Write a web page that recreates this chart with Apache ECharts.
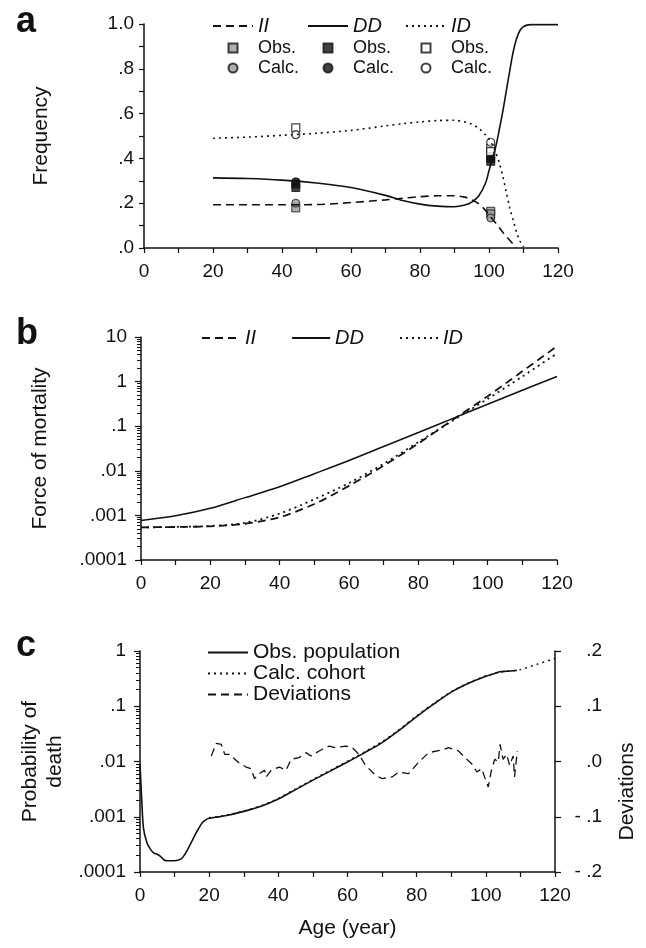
<!DOCTYPE html>
<html>
<head>
<meta charset="utf-8">
<script src="https://cdn.jsdelivr.net/npm/echarts@6/dist/echarts.min.js"></script>
<style>
  html, body { margin: 0; padding: 0; background: #fff; }
  #main { width: 646px; height: 948px; }
</style>
</head>
<body>
<div id="main"></div>
<script>
// panel a: genotype frequencies by age
var ageA = [20, 30, 40, 50, 60, 70, 75, 80, 85, 90, 93, 95, 97, 99, 100, 101, 102, 103, 104, 105, 106, 107, 108, 109, 110, 111, 112, 115, 120];
var freqII = [0.193, 0.193, 0.193, 0.194, 0.203, 0.215, 0.222, 0.229, 0.233, 0.233, 0.227, 0.215, 0.198, 0.168, 0.148, 0.130, 0.110, 0.090, 0.070, 0.052, 0.035, 0.017, 0.0, null, null, null, null, null, null];
var freqDD = [0.313, 0.310, 0.303, 0.290, 0.270, 0.235, 0.212, 0.196, 0.187, 0.184, 0.192, 0.205, 0.232, 0.290, 0.345, 0.400, 0.455, 0.530, 0.610, 0.700, 0.790, 0.875, 0.935, 0.972, 0.988, 0.995, 0.997, 0.997, 0.997];
var freqID = [0.490, 0.495, 0.503, 0.512, 0.525, 0.545, 0.555, 0.563, 0.569, 0.570, 0.563, 0.553, 0.535, 0.505, 0.485, 0.460, 0.425, 0.380, 0.320, 0.250, 0.180, 0.125, 0.070, 0.030, 0.004, null, null, null, null];

var obsAge = [44, 44, 100.5, 100.5];
var obsII = [0.179, null, 0.164, 0.152];
var calcII = [0.200, null, 0.134, null];
var obsDD = [0.286, 0.270, 0.400, 0.387];
var calcDD = [0.296, null, 0.402, null];
var obsID = [0.536, null, 0.444, 0.430];
var calcID = [0.506, null, 0.472, null];

// panel b: force of mortality
var ageB = [0, 10, 20, 30, 40, 50, 60, 70, 80, 90, 100, 110, 120];
var muII = [0.00054, 0.00055, 0.00057, 0.00065, 0.00091, 0.0018, 0.0046, 0.013, 0.041, 0.14, 0.47, 1.7, 6.2];
var muDD = [0.00077, 0.00098, 0.00144, 0.0025, 0.0044, 0.0086, 0.017, 0.035, 0.072, 0.15, 0.31, 0.64, 1.3];
var muID = [0.00054, 0.00055, 0.00058, 0.00068, 0.0011, 0.0023, 0.0053, 0.0144, 0.044, 0.135, 0.41, 1.3, 4.3];

// panel c: probability of death and deviations
var ageObs = [0, 0.5, 1, 2, 3, 4, 5, 6, 7, 8, 10, 12, 13, 14, 15, 16, 17, 18, 19, 20, 22, 25, 30, 35, 40, 45, 50, 55, 60, 65, 70, 75, 80, 85, 90, 95, 100, 102, 104, 106, 108, 109];
var qObs = [0.009, 0.002, 0.00062, 0.00034, 0.00026, 0.00022, 0.00021, 0.00019, 0.000165, 0.00016, 0.00016, 0.000175, 0.00021, 0.00027, 0.00036, 0.00048, 0.00062, 0.00078, 0.00088, 0.00094, 0.00098, 0.00105, 0.00125, 0.00155, 0.0021, 0.0031, 0.0046, 0.0067, 0.0098, 0.0145, 0.022, 0.037, 0.065, 0.11, 0.18, 0.26, 0.35, 0.38, 0.42, 0.43, 0.44, 0.445];
var ageCalc = [20, 22, 25, 30, 35, 40, 45, 50, 55, 60, 65, 70, 75, 80, 85, 90, 95, 100, 102, 104, 106, 108, 110, 115, 120];
var qCalc = [0.00096, 0.001, 0.00107, 0.00127, 0.00158, 0.00215, 0.0032, 0.0047, 0.0069, 0.0101, 0.015, 0.0228, 0.038, 0.067, 0.113, 0.183, 0.265, 0.355, 0.385, 0.415, 0.43, 0.44, 0.46, 0.58, 0.73];
var ageDev = [20.6, 22.1, 23.5, 24.5, 25.9, 28.3, 30.7, 32.1, 33.1, 34.5, 36, 36.5, 37.9, 40.3, 42.2, 43.7, 46, 48, 49.4, 51.8, 54.7, 56.6, 59.5, 61.4, 63.3, 65.2, 68.1, 70, 72.9, 74.8, 77.7, 80.6, 83.5, 87.3, 89.2, 92.1, 94, 95.9, 97.4, 98.8, 99.8, 100.7, 101.7, 102.6, 103.6, 104.1, 105, 106, 106.9, 107.9, 108.3, 109.1];
var dev = [0.010, 0.033, 0.031, 0.013, 0.013, -0.001, -0.010, -0.013, -0.031, -0.022, -0.016, -0.028, -0.016, -0.010, -0.016, 0.004, 0.007, 0.016, 0.010, 0.019, 0.028, 0.025, 0.028, 0.025, 0.013, -0.007, -0.025, -0.031, -0.028, -0.019, -0.022, -0.001, 0.016, 0.021, 0.025, 0.019, 0.007, -0.004, -0.019, -0.013, -0.031, -0.046, -0.013, 0.004, -0.001, 0.031, 0.004, 0.013, -0.007, 0.010, -0.028, 0.019];

var FONT = 'Liberation Sans';
var INK = '#111';
var DASH = [8, 5];
var DOT = [2, 4];
var SQUARE = 'path://M0 0H10V10H0Z';
var TICK_FS = 19;

function pairs(xs, ys) {
  return xs.map(function (x, i) { return [x, ys[i]]; });
}

function pts(xs, ys) {
  var out = [];
  xs.forEach(function (x, i) { if (ys[i] != null) out.push([x, ys[i]]); });
  return out;
}

// log minor ticks (2..9 in each decade)
var minorLog = [];
[0.0001, 0.001, 0.01, 0.1, 1].forEach(function (d) {
  for (var k = 2; k <= 9; k++) minorLog.push(k * d);
});

function logLabel(v) {
  var s = String(Number(Number(v).toPrecision(1)));
  return s.replace(/^0\./, '.');
}

function xAxisFor(grid, extra) {
  var ax = {
    type: 'value', gridIndex: grid, min: 0, max: 120, interval: 20,
    axisLine: { onZero: false, lineStyle: { color: INK, width: 1.5 } },
    axisTick: { length: 5, lineStyle: { color: INK, width: 1.2 } },
    minorTick: { show: true, splitNumber: 2, length: 5, lineStyle: { color: INK, width: 1.2 } },
    axisLabel: { color: INK, fontFamily: FONT, fontSize: TICK_FS, margin: 14 },
    splitLine: { show: false }
  };
  return Object.assign(ax, extra || {});
}

function logAxis(grid, min, max) {
  return {
    type: 'log', logBase: 10, gridIndex: grid, min: min, max: max, position: 'left',
    axisLine: { onZero: false, lineStyle: { color: INK, width: 1.5 } },
    axisTick: { length: 6, lineStyle: { color: INK, width: 1.2 } },
    axisLabel: { color: INK, fontFamily: FONT, fontSize: TICK_FS, margin: 14, formatter: logLabel },
    splitLine: { show: false }
  };
}

function minorLogAxis(grid, min, max) {
  return {
    type: 'log', logBase: 10, gridIndex: grid, min: min, max: max, position: 'left',
    axisLine: { show: false, onZero: false },
    axisTick: { length: 4, customValues: minorLog.filter(function (v) { return v > min && v < max; }), lineStyle: { color: INK, width: 1 } },
    axisLabel: { show: false },
    splitLine: { show: false }
  };
}

// legend for the line-only items: hide the default symbol in the icon
var NOSYM = { opacity: 0 };

function markerLegend(left, key) {
  return {
    orient: 'vertical', left: left, top: 9, itemWidth: 40, itemHeight: 9, itemGap: 0,
    textStyle: { fontFamily: FONT, fontSize: 18, color: INK, lineHeight: 20 },
    data: [
      { name: key, itemStyle: NOSYM, textStyle: { fontStyle: 'italic', fontSize: 20, lineHeight: 24 } },
      { name: key + ' obs', icon: SQUARE },
      { name: key + ' calc', icon: 'circle' }
    ],
    formatter: function (n) { return n.indexOf('obs') > 0 ? 'Obs.' : (n.indexOf('calc') > 0 ? 'Calc.' : n); }
  };
}

var chart = echarts.init(document.getElementById('main'), null, { renderer: 'canvas' });

var option = {
  backgroundColor: '#fff',
  animation: false,
  textStyle: { fontFamily: FONT, color: INK },
  grid: [
    { left: 144, top: 24, width: 414, height: 224 },
    { left: 141, top: 337, width: 416, height: 223 },
    { left: 140, top: 651, width: 417, height: 221 }
  ],
  graphic: [
    { type: 'text', left: 16, top: 4, style: { text: 'a', font: 'bold 36px ' + FONT, fill: INK } },
    { type: 'text', left: 16, top: 316, style: { text: 'b', font: 'bold 36px ' + FONT, fill: INK } },
    { type: 'text', left: 16, top: 628, style: { text: 'c', font: 'bold 36px ' + FONT, fill: INK } }
  ],
  legend: [
    markerLegend(207, 'II'),
    markerLegend(302, 'DD'),
    markerLegend(400, 'ID'),
    {
      orient: 'horizontal', left: 196, top: 322, itemWidth: 38, itemHeight: 10, itemGap: 35,
      itemStyle: NOSYM,
      textStyle: { fontFamily: FONT, fontSize: 20, fontStyle: 'italic', color: INK, lineHeight: 22 },
      data: ['II ', 'DD ', 'ID '],
      formatter: function (n) { return n.trim(); }
    },
    {
      orient: 'vertical', left: 202, top: 637, itemWidth: 40, itemHeight: 10, itemGap: 0,
      itemStyle: NOSYM,
      textStyle: { fontFamily: FONT, fontSize: 21, color: INK, lineHeight: 19 },
      data: ['Obs. population', 'Calc. cohort', 'Deviations']
    }
  ],
  xAxis: [
    xAxisFor(0),
    xAxisFor(1),
    xAxisFor(2, {
      name: 'Age (year)', nameLocation: 'middle', nameGap: 46,
      nameTextStyle: { fontFamily: FONT, fontSize: 21, color: INK }
    })
  ],
  yAxis: [
    {
      type: 'value', gridIndex: 0, min: 0, max: 1, interval: 0.2, position: 'left',
      name: 'Frequency', nameLocation: 'middle', nameGap: 92,
      nameTextStyle: { fontFamily: FONT, fontSize: 21, color: INK },
      axisLine: { show: true, onZero: false, lineStyle: { color: INK, width: 1.5 } },
      axisTick: { show: true, length: 5, lineStyle: { color: INK, width: 1.2 } },
      minorTick: { show: true, splitNumber: 2, length: 5, lineStyle: { color: INK, width: 1.2 } },
      axisLabel: { color: INK, fontFamily: FONT, fontSize: TICK_FS, margin: 10,
        formatter: function (v) { return v === 1 ? '1.0' : '.' + Math.round(v * 10); } },
      splitLine: { show: false }
    },
    Object.assign(logAxis(1, 0.0001, 10), {
      name: 'Force of mortality', nameLocation: 'middle', nameGap: 90,
      nameTextStyle: { fontFamily: FONT, fontSize: 21, color: INK }
    }),
    minorLogAxis(1, 0.0001, 10),
    Object.assign(logAxis(2, 0.0001, 1), {
      name: 'Probability of\ndeath', nameLocation: 'middle', nameGap: 70,
      nameTextStyle: { fontFamily: FONT, fontSize: 21, color: INK, lineHeight: 25 }
    }),
    minorLogAxis(2, 0.0001, 1),
    {
      type: 'value', gridIndex: 2, position: 'right', min: -0.2, max: 0.2, interval: 0.1,
      name: 'Deviations', nameLocation: 'middle', nameGap: 62,
      nameTextStyle: { fontFamily: FONT, fontSize: 21, color: INK, padding: [0, 60, 0, 0] },
      axisLine: { show: true, onZero: false, lineStyle: { color: INK, width: 1.5 } },
      axisTick: { show: true, length: 6, lineStyle: { color: INK, width: 1.2 } },
      axisLabel: { color: INK, fontFamily: FONT, fontSize: TICK_FS, margin: 47, align: 'right',
        formatter: function (v) {
          var s = '.' + Math.round(Math.abs(v) * 10);
          return v < -1e-9 ? '- ' + s : s;
        } },
      splitLine: { show: false }
    }
  ],
  series: [
    // panel a lines
    { name: 'II', type: 'line', xAxisIndex: 0, yAxisIndex: 0, data: pairs(ageA, freqII), symbol: 'none', smooth: 0.3,
      color: INK, lineStyle: { color: INK, width: 1.6, type: DASH } },
    { name: 'DD', type: 'line', xAxisIndex: 0, yAxisIndex: 0, data: pairs(ageA, freqDD), symbol: 'none', smooth: 0.3,
      color: INK, lineStyle: { color: INK, width: 1.6, type: 'solid' } },
    { name: 'ID', type: 'line', xAxisIndex: 0, yAxisIndex: 0, data: pairs(ageA, freqID), symbol: 'none', smooth: 0.3,
      color: INK, lineStyle: { color: INK, width: 1.6, type: DOT } },
    // panel a observed / calculated points
    { name: 'II obs', type: 'scatter', xAxisIndex: 0, yAxisIndex: 0, data: pts(obsAge, obsII), symbol: 'rect', symbolSize: 8,
      itemStyle: { color: '#9a9a9a', borderColor: INK, borderWidth: 1 } },
    { name: 'II calc', type: 'scatter', xAxisIndex: 0, yAxisIndex: 0, data: pts(obsAge, calcII), symbol: 'circle', symbolSize: 8,
      itemStyle: { color: '#9a9a9a', borderColor: INK, borderWidth: 1 } },
    { name: 'DD obs', type: 'scatter', xAxisIndex: 0, yAxisIndex: 0, data: pts(obsAge, obsDD), symbol: 'rect', symbolSize: 8,
      itemStyle: { color: INK, borderColor: INK, borderWidth: 1 } },
    { name: 'DD calc', type: 'scatter', xAxisIndex: 0, yAxisIndex: 0, data: pts(obsAge, calcDD), symbol: 'circle', symbolSize: 8,
      itemStyle: { color: INK, borderColor: INK, borderWidth: 1 } },
    { name: 'ID obs', type: 'scatter', xAxisIndex: 0, yAxisIndex: 0, data: pts(obsAge, obsID), symbol: 'rect', symbolSize: 8,
      itemStyle: { color: '#fff', borderColor: INK, borderWidth: 1.2 } },
    { name: 'ID calc', type: 'scatter', xAxisIndex: 0, yAxisIndex: 0, data: pts(obsAge, calcID), symbol: 'circle', symbolSize: 8,
      itemStyle: { color: '#fff', borderColor: INK, borderWidth: 1.2 } },
    // panel b
    { name: 'II ', type: 'line', xAxisIndex: 1, yAxisIndex: 1, data: pairs(ageB, muII), symbol: 'none', smooth: 0.3,
      color: INK, lineStyle: { color: INK, width: 1.8, type: DASH } },
    { name: 'DD ', type: 'line', xAxisIndex: 1, yAxisIndex: 1, data: pairs(ageB, muDD), symbol: 'none', smooth: 0.3,
      color: INK, lineStyle: { color: INK, width: 1.5, type: 'solid' } },
    { name: 'ID ', type: 'line', xAxisIndex: 1, yAxisIndex: 1, data: pairs(ageB, muID), symbol: 'none', smooth: 0.3,
      color: INK, lineStyle: { color: INK, width: 1.8, type: [2, 4] } },
    // panel c
    { name: 'Obs. population', type: 'line', xAxisIndex: 2, yAxisIndex: 3, data: pairs(ageObs, qObs), symbol: 'none', smooth: 0.25,
      color: INK, lineStyle: { color: INK, width: 1.6, type: 'solid' } },
    { name: 'Calc. cohort', type: 'line', xAxisIndex: 2, yAxisIndex: 3, data: pairs(ageCalc, qCalc), symbol: 'none', smooth: 0.25,
      color: INK, lineStyle: { color: INK, width: 1.5, type: DOT } },
    { name: 'Deviations', type: 'line', xAxisIndex: 2, yAxisIndex: 5, data: pairs(ageDev, dev), symbol: 'none',
      color: INK, lineStyle: { color: INK, width: 1.3, type: DASH } }
  ]
};

chart.setOption(option);
</script>
</body>
</html>
